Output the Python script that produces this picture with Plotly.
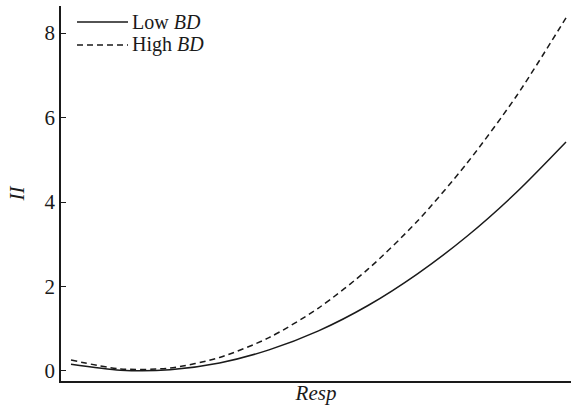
import plotly.graph_objects as go

# Data (Resp in arbitrary units, 0..1)
resp = [0.0, 0.1, 0.2, 0.3, 0.4, 0.5, 0.6, 0.7, 0.8, 0.9, 1.0]
ii_low = [0.16, 0.02, 0.03, 0.19, 0.50, 0.95, 1.55, 2.30, 3.19, 4.23, 5.42]
ii_high = [0.26, 0.05, 0.07, 0.32, 0.79, 1.49, 2.41, 3.55, 4.92, 6.51, 8.36]
y_ticks = [0, 2, 4, 6, 8]
series_names = ["Low <i>BD</i>", "High <i>BD</i>"]
series_dash = ["solid", "6px,4px"]

FONT = "Liberation Serif, Times New Roman, serif"
INK = "#1a1a1a"
FS = 21
LEG_FS = 20

fig = go.Figure()
for name, vals, dash in zip(series_names, [ii_low, ii_high], series_dash):
    fig.add_trace(go.Scatter(
        x=resp, y=vals, mode="lines", name=name, showlegend=False,
        line=dict(color=INK, width=1.5, dash=dash, shape="spline", smoothing=0.8),
    ))

# Hand-built legend (paper coordinates) to match the reference's long line samples
leg_rows_y = [0.9573, 0.8960]
for name, dash, ly in zip(series_names, series_dash, leg_rows_y):
    fig.add_shape(type="line", xref="paper", yref="paper",
                  x0=0.0314, x1=0.1314, y0=ly, y1=ly,
                  line=dict(color=INK, width=1.5, dash=dash))
    fig.add_annotation(xref="paper", yref="paper", x=0.1380, y=ly,
                       xanchor="left", yanchor="middle", text=name,
                       showarrow=False, borderpad=0,
                       font=dict(family=FONT, size=LEG_FS, color=INK))

fig.update_layout(
    width=571, height=413,
    margin=dict(l=61, r=0, t=6, b=32),
    paper_bgcolor="white", plot_bgcolor="white",
    font=dict(family=FONT, size=FS, color=INK),
    showlegend=False,
    xaxis=dict(
        range=[-0.0202, 1.0101], showgrid=False, zeroline=False,
        showline=True, linecolor=INK, linewidth=1.5,
        showticklabels=False, ticks="",
        title=dict(text="<i>Resp</i>", font=dict(family=FONT, size=FS), standoff=4),
    ),
    yaxis=dict(
        range=[-0.237, 8.64], showgrid=False, zeroline=False,
        showline=True, linecolor=INK, linewidth=1.5,
        tickvals=y_ticks, ticktext=[str(v) for v in y_ticks],
        ticks="inside", ticklen=5, tickwidth=1.2, tickcolor=INK,
        tickfont=dict(family=FONT, size=FS),
        title=dict(text="<i>II</i>", font=dict(family=FONT, size=FS), standoff=14),
    ),
)

fig.write_html(
    "out.html",
    config={"displayModeBar": False},
    post_script="document.body.style.margin='0';document.body.style.overflow='hidden';",
)
